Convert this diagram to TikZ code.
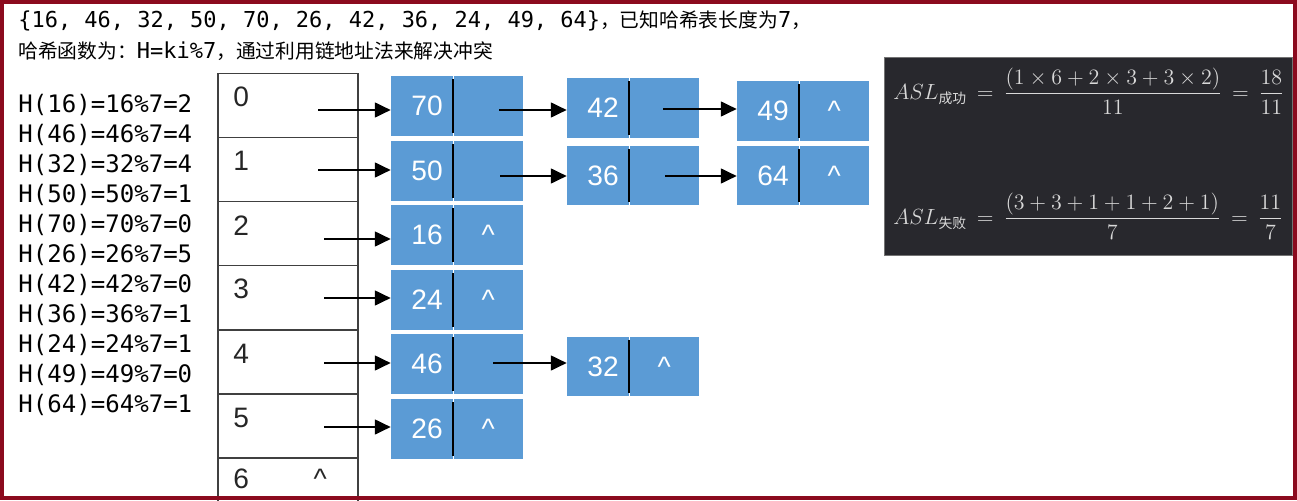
\documentclass[tikz,border=0pt]{standalone}
\usepackage{fix-cm}
\usepackage{amsmath}
\usepackage{fontspec}
\setmainfont{Liberation Sans}
\setmonofont{DejaVu Sans Mono}
\newfontfamily\cjk[Scale=0.9]{Noto Sans CJK SC}
\usetikzlibrary{positioning,arrows.meta}

\definecolor{framered}{HTML}{8B0A1E}
\definecolor{cellblue}{HTML}{5B9BD5}
\definecolor{mathbg}{HTML}{28282D}

\tikzset{
  val/.style={fill=cellblue, text=white, minimum width=1.24cm, minimum height=1.2cm,
    inner sep=0pt, font=\fontsize{16}{19}\selectfont},
  ptr/.style={val, minimum width=1.38cm},
  divider/.style={line width=1.1pt, shorten >=2pt, shorten <=2pt},
  slot/.style={draw=black!75, line width=0.8pt, minimum width=2.8cm, minimum height=1.28cm, inner sep=0pt},
  idx/.style={text=black!85, inner sep=0pt, font=\fontsize{16}{19}\selectfont},
  link/.style={-{Triangle[length=9pt,width=8.5pt]}, line width=0.9pt},
}

\begin{document}
\begin{tikzpicture}[x=0.02cm, y=-0.02cm]

    % --- 0. 画布 ---
    \useasboundingbox (0,0) rectangle (1297,500);
    \clip (0,0) rectangle (1297,500);
    \fill[white] (0,0) rectangle (1297,500);

    % --- 1. 题目 ---
    \node[anchor=base west, inner sep=0pt, font=\fontsize{12.5}{15}\ttfamily] (title1) at (18,28)
      {\{16, 46, 32, 50, 70, 26, 42, 36, 24, 49, 64\}{\cjk ，已知哈希表长度为}7{\cjk ，}};
    \node[anchor=base west, inner sep=0pt, font=\fontsize{12.5}{15}\ttfamily] (title2) at (18,59)
      {{\cjk 哈希函数为：}H=ki\%7{\cjk ，通过利用链地址法来解决冲突}};

    % --- 2. 哈希值 ---
    \node[anchor=north west, inner sep=0pt, align=left, font=\fontsize{13.7}{17.07}\ttfamily] (hlist) at (18,94)
      {H(16)=16\%7=2\\H(46)=46\%7=4\\H(32)=32\%7=4\\H(50)=50\%7=1\\H(70)=70\%7=0\\H(26)=26\%7=5\\
       H(42)=42\%7=0\\H(36)=36\%7=1\\H(24)=24\%7=1\\H(49)=49\%7=0\\H(64)=64\%7=1};

    % --- 3. 哈希表 ---
    \node[slot] (t0) at (288,105.5) {};
    \node[slot] (t1) at (288,169.5) {};
    \node[slot] (t2) at (288,233.5) {};
    \node[slot] (t3) at (288,297.5) {};
    \node[slot] (t4) at (288,362) {};
    \node[slot] (t5) at (288,426) {};
    \node[slot] (t6) at (288,490) {};
    \node[idx] (d0) at ([xshift=0.48cm, yshift=-0.49cm]t0.north west) {0};
    \node[idx] (d1) at ([xshift=0.48cm, yshift=-0.49cm]t1.north west) {1};
    \node[idx] (d2) at ([xshift=0.48cm, yshift=-0.49cm]t2.north west) {2};
    \node[idx] (d3) at ([xshift=0.48cm, yshift=-0.49cm]t3.north west) {3};
    \node[idx] (d4) at ([xshift=0.48cm, yshift=-0.49cm]t4.north west) {4};
    \node[idx] (d5) at ([xshift=0.48cm, yshift=-0.49cm]t5.north west) {5};
    \node[idx] (d6) at ([xshift=0.48cm, yshift=-0.44cm]t6.north west) {6};
    \node[idx] (nil6) at ([xshift=2.06cm, yshift=-0.44cm]t6.north west) {\textasciicircum};

    % --- 4. 链表结点 ---
    \node[val] (v70) at (422,106) {\hspace*{0.2cm}70};  \node[ptr, right=0pt of v70] (p70) {};
    \node[val] (v50) at (422,171) {\hspace*{0.2cm}50};  \node[ptr, right=0pt of v50] (p50) {};
    \node[val] (v16) at (422,235) {\hspace*{0.2cm}16};  \node[ptr, right=0pt of v16] (p16) {\textasciicircum};
    \node[val] (v24) at (422,300) {\hspace*{0.2cm}24};  \node[ptr, right=0pt of v24] (p24) {\textasciicircum};
    \node[val] (v46) at (422,364) {\hspace*{0.2cm}46};  \node[ptr, right=0pt of v46] (p46) {};
    \node[val] (v26) at (422,429) {\hspace*{0.2cm}26};  \node[ptr, right=0pt of v26] (p26) {\textasciicircum};
    \node[val] (v42) at (598,108) {\hspace*{0.2cm}42};  \node[ptr, right=0pt of v42] (p42) {};
    \node[val] (v36) at (598,175.5) {\hspace*{0.2cm}36};  \node[ptr, right=0pt of v36] (p36) {};
    \node[val] (v32) at (598,366.5) {\hspace*{0.2cm}32};  \node[ptr, right=0pt of v32] (p32) {\textasciicircum};
    \node[val] (v49) at (768,111) {\hspace*{0.2cm}49};  \node[ptr, right=0pt of v49] (p49) {\textasciicircum};
    \node[val] (v64) at (768,175.5) {\hspace*{0.2cm}64};  \node[ptr, right=0pt of v64] (p64) {\textasciicircum};
    \foreach \n in {70,50,16,24,46,26,42,36,32,49,64}
      \draw[divider] (v\n.north east) -- (v\n.south east);

    % --- 5. 指针 ---
    \coordinate (s0) at (318,110);
    \coordinate (s1) at (318,170);
    \coordinate (s2) at (324,239);
    \coordinate (s3) at (324,298);
    \coordinate (s4) at (324,363);
    \coordinate (s5) at (324,427);
    \draw[link] (s0) -- (s0 -| v70.west);
    \draw[link] (s1) -- (s1 -| v50.west);
    \draw[link] (s2) -- (s2 -| v16.west);
    \draw[link] (s3) -- (s3 -| v24.west);
    \draw[link] (s4) -- (s4 -| v46.west);
    \draw[link] (s5) -- (s5 -| v26.west);
    \coordinate (q70) at (499,110);
    \coordinate (q42) at (663,109);
    \coordinate (q50) at (500,176);
    \coordinate (q36) at (665,176);
    \coordinate (q46) at (493,363);
    \draw[link] (q70) -- (q70 -| v42.west);
    \draw[link] (q42) -- (q42 -| v49.west);
    \draw[link] (q50) -- (q50 -| v36.west);
    \draw[link] (q36) -- (q36 -| v64.west);
    \draw[link] (q46) -- (q46 -| v32.west);

    % --- 6. 平均查找长度 ---
    \node[fill=mathbg, draw=black!55, minimum width=8.16cm, minimum height=3.96cm, inner sep=0pt,
      anchor=north west] (panel) at (884,57) {};
    \node[anchor=west, inner sep=0pt, text=white!85!black, font=\fontsize{12.5}{15}\selectfont] (asl1) at (893,91)
      {$\displaystyle ASL_{\text{\cjk 成功}}\,=\,\frac{(1\times 6+2\times 3+3\times 2)}{11}\,=\,\frac{18}{11}$};
    \node[anchor=west, inner sep=0pt, text=white!85!black, font=\fontsize{12.5}{15}\selectfont] (asl2) at (893,216)
      {$\displaystyle ASL_{\text{\cjk 失败}}\,=\,\frac{(3+3+1+1+2+1)}{7}\,=\,\frac{11}{7}$};

    % --- 7. 边框 ---
    \draw[framered, line width=0.08cm] (2,2) rectangle (1295,498);

\end{tikzpicture}
\end{document}
